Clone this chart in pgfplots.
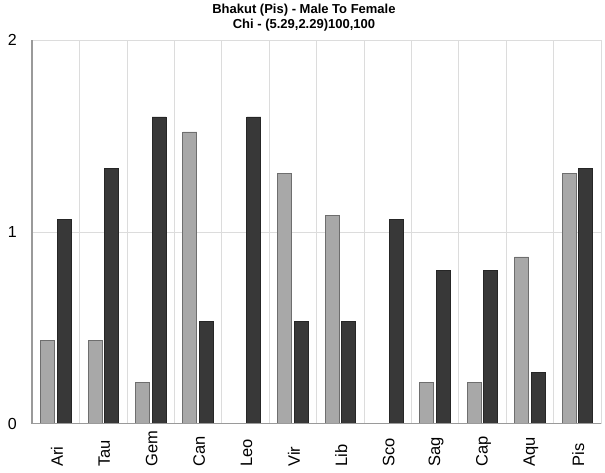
\documentclass[border=0pt]{standalone}
\usepackage{fontspec}
\setmainfont{Liberation Sans}
\usepackage{pgfplots}
\pgfplotsset{compat=1.18}
\definecolor{greyfill}{HTML}{A8A8A8}
\definecolor{greyedge}{HTML}{6E6E6E}
\definecolor{darkfill}{HTML}{383838}
\definecolor{darkedge}{HTML}{262626}
\definecolor{gridc}{HTML}{DCDCDC}
\definecolor{axisc}{HTML}{9A9A9A}
\begin{document}
\begin{tikzpicture}
\begin{axis}[
  scale only axis,
  width=568.7pt, height=383.4pt,
  at={(0pt,0pt)}, anchor=south west,
  xmin=-0.5, xmax=11.5,
  ymin=0, ymax=2,
  ytick={0,1,2},
  xtick={0,1,2,3,4,5,6,7,8,9,10,11},
  xticklabels={Ari,Tau,Gem,Can,Leo,Vir,Lib,Sco,Sag,Cap,Aqu,Pis},
  minor xtick={-0.5,0.5,1.5,2.5,3.5,4.5,5.5,6.5,7.5,8.5,9.5,10.5,11.5},
  xminorgrids, ymajorgrids,
  grid style={draw=gridc, line width=0.8pt},
  minor grid style={draw=gridc, line width=0.8pt},
  major tick length=0pt, minor tick length=0pt,
  axis line style={draw=none},
  /pgf/number format/assume math mode=true,
  yticklabel style={font=\fontsize{16}{16}\selectfont, xshift=-12pt},
  xticklabel style={font=\fontsize{16.5}{16.5}\selectfont, rotate=90, anchor=west, inner sep=0pt, xshift=-43pt, yshift=-1pt},
  title={Bhakut (Pis) - Male To Female\\Chi - (5.29,2.29)100,100},
  title style={font=\bfseries\fontsize{13}{14.7}\selectfont, align=center, at={(0.5,1)}, anchor=south, xshift=-12.7pt, yshift=0pt},
  clip=false,
]
\addplot[ybar, bar width=0.296, bar shift=-0.175, fill=greyfill, draw=greyedge, line width=0.8pt]
  coordinates {(0,0.435) (1,0.435) (2,0.217) (3,1.522) (4,0) (5,1.304) (6,1.087) (7,0) (8,0.217) (9,0.217) (10,0.870) (11,1.304)};
\addplot[ybar, bar width=0.296, bar shift=0.175, fill=darkfill, draw=darkedge, line width=0.8pt]
  coordinates {(0,1.067) (1,1.333) (2,1.6) (3,0.533) (4,1.6) (5,0.533) (6,0.533) (7,1.067) (8,0.8) (9,0.8) (10,0.267) (11,1.333)};
\draw[draw=axisc, line width=0.8pt] (axis cs:-0.5,0) -- (axis cs:11.5,0);
\draw[draw=axisc, line width=1.8pt] (axis cs:-0.5,0) -- (axis cs:-0.5,2);
\end{axis}
\pgfresetboundingbox
\path[use as bounding box] (-32.3pt,-48.3pt) rectangle (572.7pt,423.7pt);
\end{tikzpicture}
\end{document}
